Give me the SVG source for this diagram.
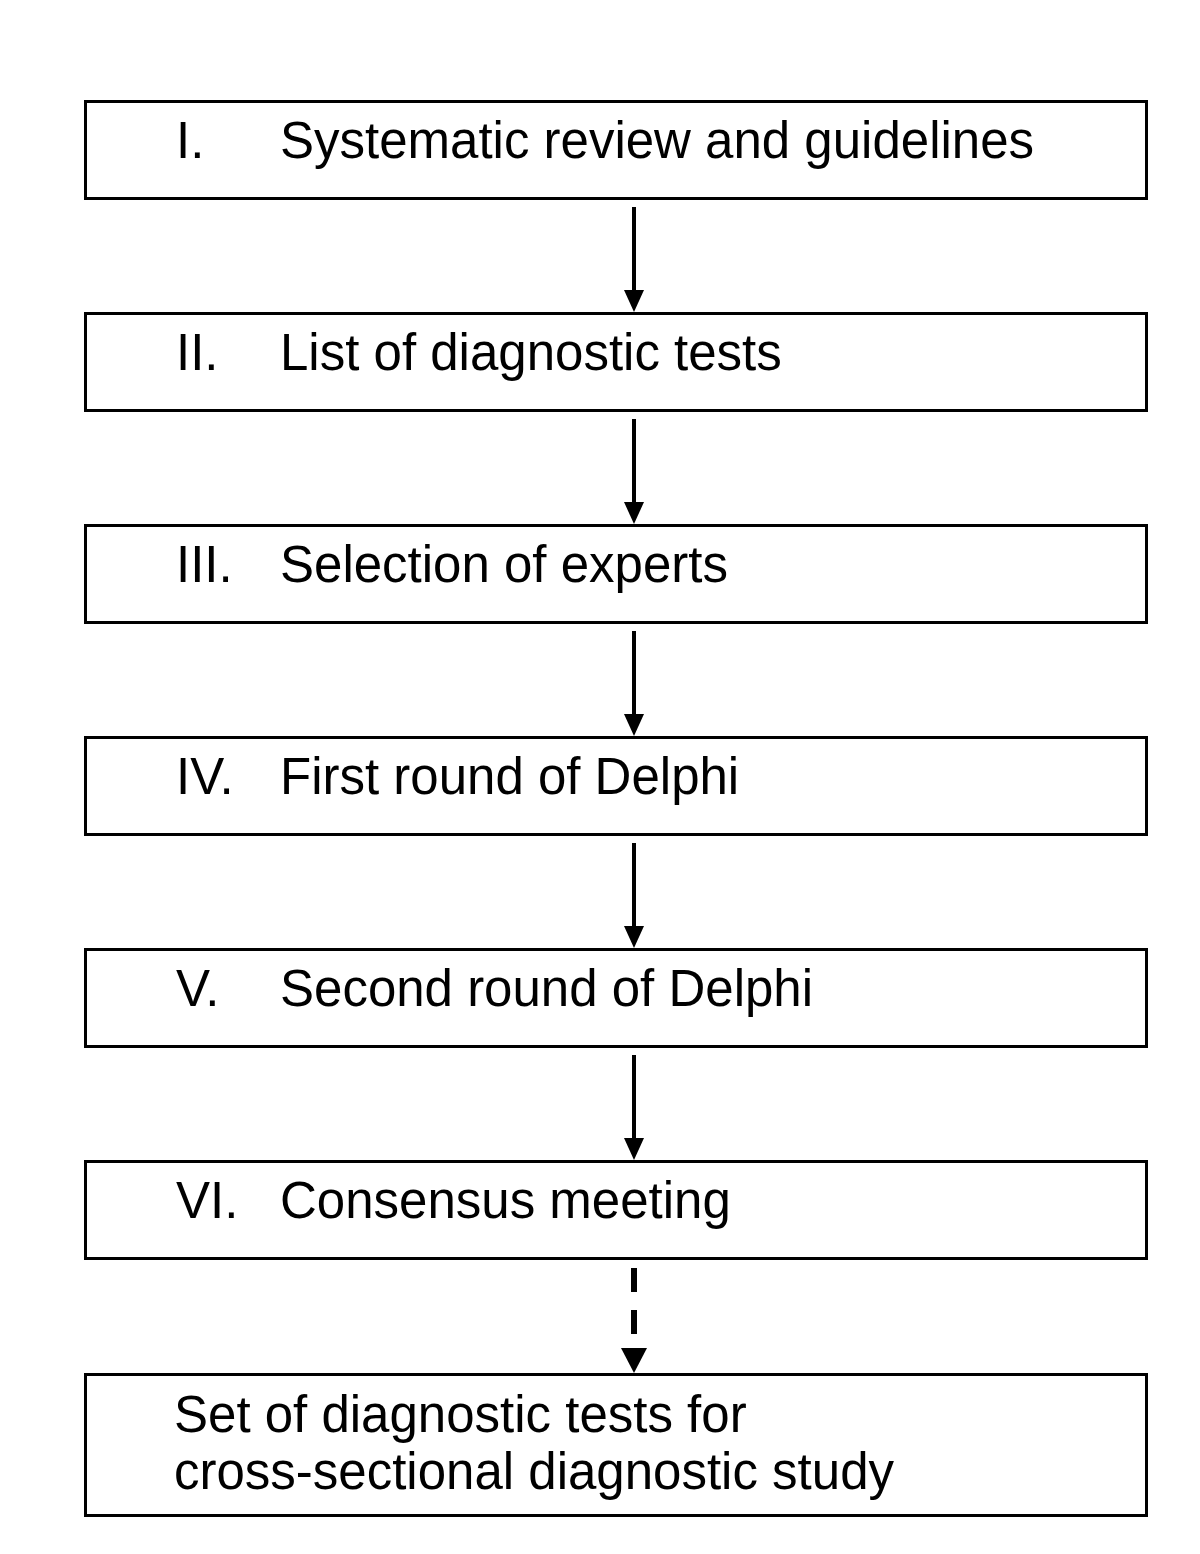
<svg xmlns="http://www.w3.org/2000/svg" width="1200" height="1554" viewBox="0 0 1200 1554">
<defs>
<style>
.box{fill:#fff;stroke:#000;stroke-width:3}
.t{font-family:"Liberation Sans",Arial,sans-serif;font-size:51px;fill:#000}
.ln{stroke:#000;stroke-width:4;fill:none}
.dl{stroke:#000;stroke-width:6;fill:none;stroke-dasharray:24 18}
</style>
</defs>
<rect width="1200" height="1554" fill="#fff"/>
<g id="connectors">
<line class="ln" x1="634" y1="207" x2="634" y2="292"/>
<polygon points="624,290 644,290 634,312"/>
<line class="ln" x1="634" y1="419" x2="634" y2="504"/>
<polygon points="624,502 644,502 634,524"/>
<line class="ln" x1="634" y1="631" x2="634" y2="716"/>
<polygon points="624,714 644,714 634,736"/>
<line class="ln" x1="634" y1="843" x2="634" y2="928"/>
<polygon points="624,926 644,926 634,948"/>
<line class="ln" x1="634" y1="1055" x2="634" y2="1140"/>
<polygon points="624,1138 644,1138 634,1160"/>
<line class="dl" x1="634" y1="1268" x2="634" y2="1334"/>
<polygon points="621,1348 647,1348 634,1373"/>
</g>
<g id="n1"><rect class="box" x="85.5" y="101.5" width="1061" height="97"/><text class="t" x="176" y="158">I.</text><text class="t" x="280" y="158">Systematic review and guidelines</text></g>
<g id="n2"><rect class="box" x="85.5" y="313.5" width="1061" height="97"/><text class="t" x="176" y="370">II.</text><text class="t" x="280" y="370">List of diagnostic tests</text></g>
<g id="n3"><rect class="box" x="85.5" y="525.5" width="1061" height="97"/><text class="t" x="176" y="582">III.</text><text class="t" x="280" y="582">Selection of experts</text></g>
<g id="n4"><rect class="box" x="85.5" y="737.5" width="1061" height="97"/><text class="t" x="176" y="794">IV.</text><text class="t" x="280" y="794">First round of Delphi</text></g>
<g id="n5"><rect class="box" x="85.5" y="949.5" width="1061" height="97"/><text class="t" x="176" y="1006">V.</text><text class="t" x="280" y="1006">Second round of Delphi</text></g>
<g id="n6"><rect class="box" x="85.5" y="1161.5" width="1061" height="97"/><text class="t" x="176" y="1218">VI.</text><text class="t" x="280" y="1218">Consensus meeting</text></g>
<g id="n7"><rect class="box" x="85.5" y="1374.5" width="1061" height="141"/><text class="t" x="174" y="1432">Set of diagnostic tests for</text><text class="t" x="174" y="1489">cross-sectional diagnostic study</text></g>
</svg>
